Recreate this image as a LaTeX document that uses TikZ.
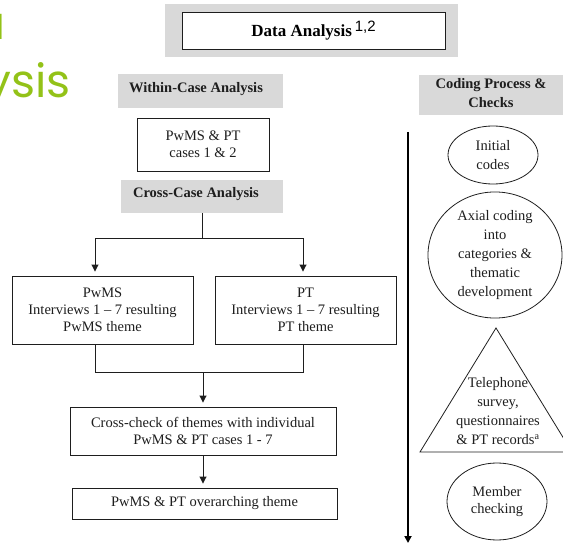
\documentclass[tikz,border=0pt]{standalone}
\usepackage{fontspec}
\setmainfont{Liberation Serif}
\newfontfamily\supfont{Liberation Sans}
\newfontfamily\titlefont{Poppins}
\usetikzlibrary{arrows.meta}
\definecolor{shade}{RGB}{217,217,217}
\definecolor{lime}{RGB}{147,194,24}
\definecolor{ink}{RGB}{30,30,30}
\tikzset{
  x=1pt, y=-1pt,
  bodytext/.style={font=\rmfamily\fontsize{14.5}{17}\selectfont, align=center, text=ink},
  headtext/.style={font=\rmfamily\fontsize{14.5}{17}\selectfont\bfseries, align=center, text=ink},
  panel/.style={fill=shade, draw=none, inner sep=0pt},
  stepbox/.style={draw=ink, line width=0.9pt, fill=white, inner sep=0pt, bodytext},
  bubble/.style={draw=ink, line width=0.8pt, ellipse, inner sep=0pt,
    font=\rmfamily\fontsize{14.5}{19}\selectfont, align=center, text=ink},
  link/.style={draw=ink, line width=0.9pt},
  arr/.style={link, -{Triangle[length=7pt,width=7pt]}, shorten >=4pt},
  flow/.style={draw=black, line width=2pt, -{Triangle[length=7pt,width=7pt]}},
  titletext/.style={font=\titlefont\fontsize{46}{46}\selectfont, text=lime, inner sep=0pt}
}
\usetikzlibrary{shapes.geometric}
\begin{document}
\begin{tikzpicture}
\useasboundingbox (0,0) rectangle (563,543);

% slide title, running off the left edge
\begin{scope}
  \clip (0,0) rectangle (563,543);
  \node[titletext, anchor=base east] (titleA) at (6,40) {a};
  \node[titletext, anchor=base east] (titleB) at (71,98) {ysis};
\end{scope}

% heading
\node[panel, minimum width=293, minimum height=53] (dataBg) at (311,31) {};
\node[draw=ink, line width=0.9pt, fill=white, minimum width=263, minimum height=37,
  inner sep=0pt] (dataBox) at (313.5,30.5)
  {\rmfamily\fontsize{17}{20}\selectfont\bfseries Data Analysis\,\raisebox{4.5pt}{\supfont\mdseries\fontsize{15}{15}\selectfont 1,2}};

% within-case column
\node[panel, minimum width=165, minimum height=34] (withinBg) at (200.5,91) {};
\node[headtext] (withinLbl) at (196,89) {Within-Case Analysis};
\node[stepbox, minimum width=132, minimum height=53] (casesBox) at (203,144.5)
  {PwMS \& PT\\cases 1 \& 2};

\node[panel, minimum width=162, minimum height=33] (crossBg) at (202,196.5) {};
\node[headtext] (crossLbl) at (196,194) {Cross-Case Analysis};

\node[stepbox, minimum width=181, minimum height=68] (pwmsBox) at (102.5,310)
  {PwMS\\Interviews 1 -- 7 resulting\\PwMS theme};
\node[stepbox, minimum width=181, minimum height=68] (ptBox) at (305.5,310)
  {PT\\Interviews 1 -- 7 resulting\\PT theme};

\node[stepbox, minimum width=266, minimum height=48] (checkBox) at (203,431)
  {Cross-check of themes with individual\\PwMS \& PT cases 1 - 7};
\node[stepbox, minimum width=265, minimum height=31] (themeBox) at (204.5,503.5)
  {PwMS \& PT overarching theme};

% split and merge connectors
\coordinate (splitL) at (95,238);
\coordinate (splitR) at (303,238);
\coordinate (mergeL) at (95,372);
\coordinate (mergeR) at (303,372);
\draw[link] (crossBg.south) -- (crossBg.south |- splitL);
\draw[link] (splitL) -- (splitR);
\draw[arr] (splitL) -- (splitL |- pwmsBox.north);
\draw[arr] (splitR) -- (splitR |- ptBox.north);
\draw[link] (pwmsBox.south -| mergeL) -- (mergeL) -- (mergeR) -- (ptBox.south -| mergeR);
\draw[arr] (checkBox.north |- mergeL) -- (checkBox.north);
\draw[arr] (checkBox.south) -- (checkBox.south |- themeBox.north);

% coding process column
\node[panel, minimum width=144, minimum height=40] (codingBg) at (491,95) {};
\node[headtext, font=\rmfamily\fontsize{14.5}{19}\selectfont\bfseries] (codingLbl) at (491,93)
  {Coding Process \&\\Checks};

\coordinate (flowTop) at (408,132);
\coordinate (flowEnd) at (408,543);
\draw[flow] (flowTop) -- (flowEnd);

\node[bubble, minimum width=90, minimum height=58] (initial) at (493,155)
  {Initial\\codes};
\node[bubble, minimum width=134, minimum height=124] (axial) at (495,255)
  {Axial coding\\into\\categories \&\\thematic\\development};

\draw[ink, line width=0.8pt] (496,328) -- (420,452) -- (572,452) -- cycle;
\node[bodytext, font=\rmfamily\fontsize{14.5}{19.3}\selectfont] (survey) at (498,411)
  {Telephone\\survey,\\questionnaires\\\& PT records\textsuperscript{a}};

\node[bubble, font=\rmfamily\fontsize{14.5}{17}\selectfont, minimum width=100, minimum height=77]
  (member) at (497,501.5) {Member\\checking};
\end{tikzpicture}
\end{document}
